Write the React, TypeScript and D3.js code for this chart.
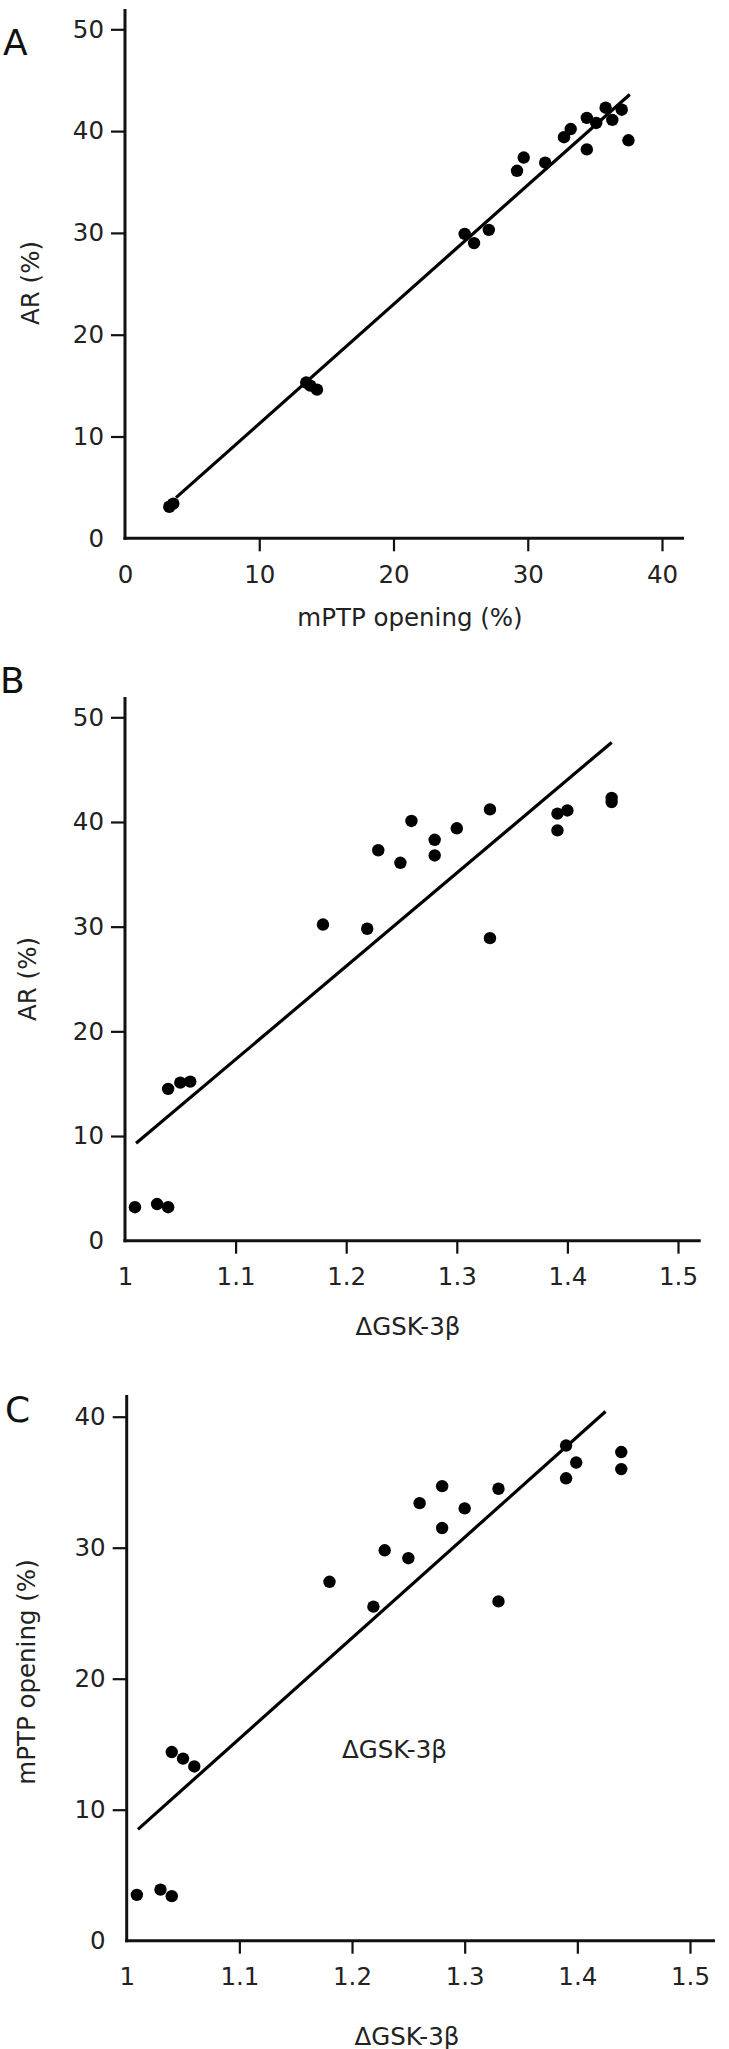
import { useEffect, useRef } from "react";
import { select, scaleLinear, axisLeft, axisBottom } from "d3";

// Panel A: mPTP opening vs AR
const aX = [3.3, 3.6, 13.5, 13.8, 14.3, 25.3, 26.0, 27.1, 29.2, 29.7, 31.3, 32.7, 33.2, 34.4, 34.4, 35.1, 35.8, 36.3, 37.0, 37.5];
const aY = [3.1, 3.4, 15.3, 15.0, 14.6, 29.9, 29.0, 30.3, 36.1, 37.4, 36.9, 39.4, 40.2, 41.3, 38.2, 40.8, 42.3, 41.1, 42.1, 39.1];
const aLine = [[3.8, 4.0], [37.6, 43.6]];

// Panel B: GSK-3beta vs AR
const bX = [1.009, 1.029, 1.039, 1.039, 1.05, 1.059, 1.179, 1.219, 1.229, 1.249, 1.259, 1.28, 1.28, 1.3, 1.33, 1.33, 1.391, 1.391, 1.4, 1.44, 1.44];
const bY = [3.2, 3.5, 3.2, 14.5, 15.1, 15.2, 30.2, 29.8, 37.3, 36.1, 40.1, 38.3, 36.8, 39.4, 41.2, 28.9, 40.8, 39.2, 41.1, 42.3, 41.9];
const bLine = [[1.01, 9.3], [1.44, 47.6]];

// Panel C: GSK-3beta vs mPTP opening
const cX = [1.009, 1.03, 1.04, 1.04, 1.05, 1.06, 1.18, 1.219, 1.229, 1.25, 1.26, 1.28, 1.28, 1.3, 1.33, 1.33, 1.39, 1.39, 1.399, 1.439, 1.439];
const cY = [3.5, 3.9, 3.4, 14.4, 13.9, 13.3, 27.4, 25.5, 29.8, 29.2, 33.4, 34.7, 31.5, 33.0, 34.5, 25.9, 37.8, 35.3, 36.5, 37.3, 36.0];
const cLine = [[1.01, 8.5], [1.425, 40.4]];

const ticks10 = [0, 10, 20, 30, 40];
const ticks50 = [0, 10, 20, 30, 40, 50];
const ticksGsk = [1, 1.1, 1.2, 1.3, 1.4, 1.5];

const FONT = "'DejaVu Sans', sans-serif";

const panels = [
  {
    letter: "A", letterPos: [3, 55],
    xs: aX, ys: aY, line: aLine,
    xDomain: [0, 40], xRange: [125, 662], xTicks: ticks10,
    yDomain: [0, 50], yRange: [538.3, 29.3], yTicks: ticks50,
    yTop: 9, xEnd: 684,
    xTitle: "mPTP opening (%)", xTitlePos: [410, 617],
    yTitle: "AR (%)", yTitlePos: [30, 283],
  },
  {
    letter: "B", letterPos: [0, 693],
    xs: bX, ys: bY, line: bLine,
    xDomain: [1, 1.5], xRange: [125, 678], xTicks: ticksGsk,
    yDomain: [0, 50], yRange: [1240.7, 717.3], yTicks: ticks50,
    yTop: 697, xEnd: 700.7,
    xTitle: "\u0394GSK-3\u03b2", xTitlePos: [408, 1326],
    yTitle: "AR (%)", yTitlePos: [27, 979],
  },
  {
    letter: "C", letterPos: [5, 1422],
    xs: cX, ys: cY, line: cLine,
    xDomain: [1, 1.5], xRange: [126.7, 690], xTicks: ticksGsk,
    yDomain: [0, 40], yRange: [1940.7, 1416.7], yTicks: ticks10,
    yTop: 1395, xEnd: 715,
    xTitle: "\u0394GSK-3\u03b2", xTitlePos: [407, 2036],
    yTitle: "mPTP opening (%)", yTitlePos: [26, 1672],
    note: { text: "\u0394GSK-3\u03b2", x: 1.2377, y: 14.6 },
  },
];

const App = () => {
  const svgRef = useRef(null);

  useEffect(() => {
    document.body.style.margin = "0";
    const svg = select(svgRef.current);
    svg.selectAll("*").remove();
    svg.style("background-color", "#ffffff");

    panels.forEach((p) => {
      const x = scaleLinear().domain(p.xDomain).range(p.xRange);
      const y = scaleLinear().domain(p.yDomain).range(p.yRange);
      const g = svg.append("g");

      // y axis
      const yAxis = axisLeft(y)
        .tickValues(p.yTicks)
        .tickSize(14)
        .tickSizeOuter(0)
        .tickPadding(7)
        .tickFormat((d) => String(d));
      const ya = g.append("g")
        .attr("transform", `translate(${p.xRange[0]},0)`)
        .call(yAxis);
      ya.select(".domain").remove();
      ya.selectAll(".tick line").attr("stroke", "#111").attr("stroke-width", 2.2);
      // the zero tick sits on the x axis, no tick mark there
      ya.selectAll(".tick").filter((d) => d === 0).select("line").remove();
      ya.selectAll("text").attr("font-family", FONT).attr("font-size", 24.5).attr("fill", "#222");

      // x axis
      const xAxis = axisBottom(x)
        .tickValues(p.xTicks)
        .tickSize(13)
        .tickSizeOuter(0)
        .tickPadding(14)
        .tickFormat((d) => String(d));
      const xa = g.append("g")
        .attr("transform", `translate(0,${p.yRange[0]})`)
        .call(xAxis);
      xa.select(".domain").remove();
      xa.selectAll(".tick line").attr("stroke", "#111").attr("stroke-width", 2.2);
      xa.selectAll(".tick").filter((d) => d === p.xDomain[0]).select("line").remove();
      xa.selectAll("text").attr("font-family", FONT).attr("font-size", 24.5).attr("fill", "#222");

      // axis lines
      g.append("line")
        .attr("x1", p.xRange[0]).attr("x2", p.xRange[0])
        .attr("y1", p.yTop).attr("y2", p.yRange[0] + 1.5)
        .attr("stroke", "#111").attr("stroke-width", 3);
      g.append("line")
        .attr("x1", p.xRange[0] - 1.5).attr("x2", p.xEnd)
        .attr("y1", p.yRange[0]).attr("y2", p.yRange[0])
        .attr("stroke", "#111").attr("stroke-width", 3);

      // regression line
      g.append("line")
        .attr("x1", x(p.line[0][0])).attr("y1", y(p.line[0][1]))
        .attr("x2", x(p.line[1][0])).attr("y2", y(p.line[1][1]))
        .attr("stroke", "#000").attr("stroke-width", 3.2);

      // points
      g.selectAll(".dot")
        .data(p.xs.map((v, i) => [v, p.ys[i]]))
        .enter()
        .append("circle")
        .attr("class", "dot")
        .attr("cx", (d) => x(d[0]))
        .attr("cy", (d) => y(d[1]))
        .attr("r", 6.2)
        .attr("fill", "#000");

      // titles
      g.append("text")
        .attr("x", p.xTitlePos[0]).attr("y", p.xTitlePos[1])
        .attr("text-anchor", "middle").attr("dominant-baseline", "central")
        .attr("font-family", FONT).attr("font-size", 24.5).attr("fill", "#222")
        .text(p.xTitle);
      g.append("text")
        .attr("transform", `translate(${p.yTitlePos[0]},${p.yTitlePos[1]}) rotate(-90)`)
        .attr("text-anchor", "middle").attr("dominant-baseline", "central")
        .attr("font-family", FONT).attr("font-size", 24.5).attr("fill", "#222")
        .text(p.yTitle);
      g.append("text")
        .attr("x", p.letterPos[0]).attr("y", p.letterPos[1])
        .attr("font-family", FONT).attr("font-size", 36).attr("fill", "#111")
        .text(p.letter);

      if (p.note) {
        g.append("text")
          .attr("x", x(p.note.x)).attr("y", y(p.note.y))
          .attr("text-anchor", "middle").attr("dominant-baseline", "central")
          .attr("font-family", FONT).attr("font-size", 24.5).attr("fill", "#222")
          .text(p.note.text);
      }
    });
  }, []);

  return (
    <svg ref={svgRef} width={729} height={2049} style={{ display: "block" }}></svg>
  );
};

export default App;
